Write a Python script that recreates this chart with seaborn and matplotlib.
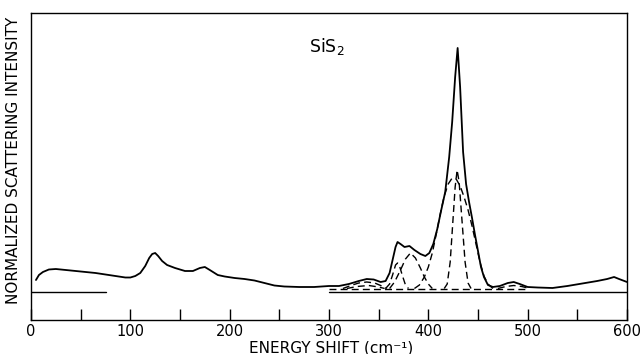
import matplotlib
matplotlib.use("Agg")
import matplotlib.pyplot as plt
import seaborn as sns
import pandas as pd

# ---- data (x: energy shift in cm^-1, y: intensity, arbitrary units) ----
spec_x = [5, 8, 12, 18, 25, 35, 45, 55, 65, 75, 85, 95, 100, 105, 110, 115, 119, 122, 125, 128,
          132, 137, 145, 155, 163, 170, 175, 180, 188, 195, 205, 215, 225, 235, 245, 255, 270,
          285, 300, 310, 320, 330, 338, 345, 352, 357, 361, 364, 367, 369, 372, 376, 381, 386,
          392, 397, 401, 405, 409, 413, 417, 421, 424, 427, 429.5, 432, 435, 438, 441, 444,
          447, 450, 453, 456, 460, 465, 472, 480, 486, 492, 500, 510, 525, 540, 555, 570, 580,
          587, 592, 600]
spec_y = [12, 17, 20, 22.5, 23, 22, 21, 20, 19, 17.5, 16, 14.5, 14.5, 16, 19, 26, 34, 38, 39, 36,
          31, 27, 24, 21, 21, 24, 25, 22, 17, 15.5, 14, 13, 11.5, 9, 6.5, 5.5, 5,
          5, 6, 6, 8, 11, 13, 12.5, 10, 11, 19, 32, 45, 50, 48, 45, 46, 42,
          38, 36, 39, 48, 63, 82, 100, 135, 170, 215, 244, 205, 140, 108, 90, 74,
          57, 41, 25, 15, 7, 5, 6, 9, 10, 8, 5, 4.5, 4, 6, 8.5, 11, 13,
          15, 13, 10]

# fitted components (dashed)
compA_x = [314, 322, 330, 338, 346, 352, 358]
compA_y = [3.5, 6.5, 9, 10, 9, 6.5, 3.5]
compB_x = [318, 328, 340, 350, 356]
compB_y = [3.5, 5.5, 6.5, 5, 3.5]
compC_x = [357, 361, 364, 367, 369, 371, 374, 377, 380]
compC_y = [3.5, 8, 17, 27, 29, 26, 16, 7, 3.5]
compD_x = [361, 366, 372, 377, 382, 387, 392, 396, 400, 404]
compD_y = [3.5, 10, 22, 33, 39, 34, 24, 15, 8, 3.5]
compE_x = [386, 391, 396, 400, 404, 408, 412, 416, 420, 424, 428, 432, 436, 440, 444, 448, 452,
           456, 460, 465]
compE_y = [3.5, 7, 15, 25, 39, 58, 78, 96, 108, 114, 113, 106, 95, 82, 66, 48, 30, 16, 8, 3.5]
compF_x = [416, 419, 422, 425, 427, 429, 431, 434, 437, 440, 443]
compF_y = [3.5, 8, 30, 75, 105, 122, 110, 70, 30, 9, 3.5]
compG_x = [470, 478, 486, 494, 502]
compG_y = [3.5, 5.5, 6.5, 5.5, 3.5]

dash_base_x = [300, 500]
dash_base_y = [3.5, 3.5]
base1_x = [0, 75]
base1_y = [0, 0]
base2_x = [300, 600]
base2_y = [0, 0]

x_ticks = [0, 50, 100, 150, 200, 250, 300, 350, 400, 450, 500, 550, 600]
x_tick_labels = ["0", "", "100", "", "200", "", "300", "", "400", "", "500", "", "600"]

# ---- plotting ----
sns.set_theme(style="ticks")
plt.rcParams['font.family'] = ['DejaVu Sans']

fig = plt.figure(figsize=(6.42, 3.54), dpi=100)
ax = fig.add_axes([31 / 642, 1 - 319.5 / 354, 596 / 642, 307 / 354])

def draw(xs, ys, ls="-", lw=1.1):
    df = pd.DataFrame({"x": xs, "y": ys})
    sns.lineplot(data=df, x="x", y="y", ax=ax, color="black", linestyle=ls,
                 linewidth=lw, estimator=None, sort=False)

draw(base1_x, base1_y, lw=1.0)
draw(base2_x, base2_y, lw=1.0)
draw(dash_base_x, dash_base_y, ls=(0, (5, 3)), lw=1.0)
for cx, cy in [(compA_x, compA_y), (compB_x, compB_y), (compC_x, compC_y), (compD_x, compD_y),
               (compE_x, compE_y), (compF_x, compF_y), (compG_x, compG_y)]:
    draw(cx, cy, ls=(0, (5, 3)), lw=1.0)
draw(spec_x, spec_y, lw=1.3)

ax.set_xlim(0, 600)
ax.set_ylim(-27.5, 279.5)
ax.set_xticks(x_ticks)
ax.set_xticklabels(x_tick_labels)
ax.set_yticks([])
ax.tick_params(axis="x", direction="in", length=8, width=1.0, color="black",
               labelsize=10.5, pad=3.5, labelcolor="black")
for s in ax.spines.values():
    s.set_visible(True)
    s.set_color("black")
    s.set_linewidth(1.0)
ax.set_xlabel("")
ax.set_ylabel("")

fig.text(331 / 642, 1 - 348 / 354, "ENERGY SHIFT (cm⁻¹)", ha="center", va="center",
         fontsize=11, color="black")
fig.text(14 / 642, 1 - 160 / 354, "NORMALIZED SCATTERING INTENSITY", ha="center", va="center",
         rotation=90, fontsize=11, color="black")
ax.text(298, 246, "SiS$_2$", ha="center", va="center", fontsize=12.5, color="black")

fig.savefig("out.png", dpi=100)
